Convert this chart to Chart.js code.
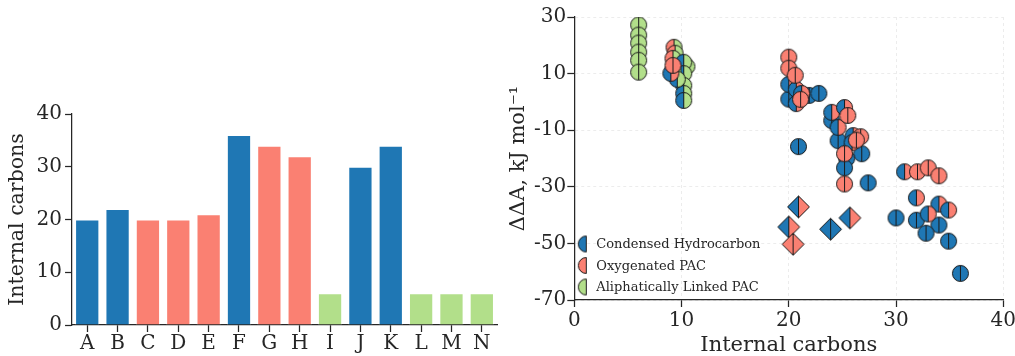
<!DOCTYPE html>
<html>
<head>
<meta charset="utf-8">
<script src="https://cdn.jsdelivr.net/npm/chart.js@4"></script>
<style>
    html, body { margin: 0; padding: 0; background: #fff; overflow: hidden; }
    #wrap { position: relative; width: 1015px; height: 356px; overflow: hidden; }
    .box { position: absolute; top: 0; height: 356px; }
    #left-box { left: 0; width: 505px; }
    #right-box { left: 505px; width: 515px; }
</style>
</head>
<body>
<div id="wrap">
    <div class="box" id="left-box"><canvas id="bar-chart"></canvas></div>
    <div class="box" id="right-box"><canvas id="scatter-chart"></canvas></div>
</div>
<script>
'use strict';

// ---- data ----

const barLabels = ['A', 'B', 'C', 'D', 'E', 'F', 'G', 'H', 'I', 'J', 'K', 'L', 'M', 'N']
const barValues = [20, 22, 20, 20, 21, 36, 34, 32, 6, 30, 34, 6, 6, 6]
const barFamilies = ['cond', 'cond', 'oxy', 'oxy', 'oxy', 'cond', 'oxy', 'oxy', 'ali', 'cond', 'cond', 'ali', 'ali', 'ali']

const legendNames = ['Condensed Hydrocarbon', 'Oxygenated PAC', 'Aliphatically Linked PAC']
const legendFamilies = ['cond', 'oxy', 'ali']

// circles, left half / right half family
const condOxyX = [9.0, 20.0, 20.7, 20.7, 24.0, 25.2, 24.6, 26.0, 25.9, 30.8, 31.9, 34.0, 34.9, 33.0, 21.2]
const condOxyY = [10.1, 6.2, 4.4, -0.6, -3.7, -2.0, -9.0, -11.9, -14.4, -24.7, -33.9, -36.1, -38.2, -39.6, 3.0]

const condX = [21.9, 22.8, 20.0, 20.9, 24.0, 24.6, 26.8, 25.4, 25.2, 27.4, 30.0, 31.9, 34.0, 32.8, 34.9, 36.0]
const condY = [2.3, 3.0, 1.0, -15.8, -6.6, -13.7, -18.3, -20.0, -23.3, -28.6, -41.0, -41.8, -43.5, -46.4, -49.2, -60.6]

const oxyX = [20.0, 20.0, 20.6, 21.1, 25.5, 26.7, 25.2, 25.2, 32.0, 33.0, 34.0, 9.2, 26.3]
const oxyY = [15.8, 11.9, 9.4, 0.9, -4.8, -12.3, -18.3, -29.0, -24.7, -23.3, -26.1, 12.9, -13.5]

const oxyAliX = [9.3, 9.4, 9.2]
const oxyAliY = [19.3, 17.2, 15.4]

const condAliX = [10.2, 10.2, 10.2, 10.2, 10.2, 9.2, 9.6]
const condAliY = [14.0, 10.0, 5.8, 3.0, 0.5, 11.0, 8.0]

const aliX = [6, 6, 6, 6, 6, 6, 10.5]
const aliY = [27.2, 23.6, 20.8, 17.6, 14.7, 10.5, 12.5]

// diamonds
const dCondOxyX = [20.9, 20.0, 25.7]
const dCondOxyY = [-37.1, -44.2, -41.0]
const dCondX = [23.9]
const dCondY = [-45.0]
const dOxyX = [20.4]
const dOxyY = [-50.3]

// ---- styles ----

const familyColors = { cond: '#1f77b4', oxy: '#fa8072', ali: '#b2df8a' }
const ink = '#262626'
const serif = "'DejaVu Serif', serif"

Chart.defaults.font.family = serif
Chart.defaults.color = ink

// build a half / half marker image for pointStyle

function makeMarker(shape, leftFam, rightFam, halfOnly) {
    const size = shape === 'diamond' ? 25 : 19
    const r = shape === 'diamond' ? 11 : 8
    const c = document.createElement('canvas')
    c.width = size
    c.height = size
    const ctx = c.getContext('2d')
    const m = size / 2

    const outline = () => {
        ctx.beginPath()
        if (shape === 'diamond') {
            ctx.moveTo(m, m - r)
            ctx.lineTo(m + r, m)
            ctx.lineTo(m, m + r)
            ctx.lineTo(m - r, m)
            ctx.closePath()
        } else {
            ctx.arc(m, m, r, 0, Math.PI * 2)
        }
    }

    const fillHalf = (x0, color) => {
        ctx.save()
        ctx.beginPath()
        ctx.rect(x0, 0, m, size)
        ctx.clip()
        outline()
        ctx.fillStyle = color
        ctx.fill()
        ctx.lineWidth = 1
        ctx.strokeStyle = '#1a1a1a'
        ctx.stroke()
        ctx.restore()
    }

    fillHalf(0, familyColors[leftFam])
    if (!halfOnly) fillHalf(m, familyColors[rightFam])

    ctx.beginPath()
    ctx.moveTo(m, m - r)
    ctx.lineTo(m, m + r)
    ctx.lineWidth = 1
    ctx.strokeStyle = '#1a1a1a'
    ctx.stroke()

    return c
}

const toPoints = (xs, ys) => xs.map((x, i) => ({ x: x, y: ys[i] }))

const scatterGroups = [
    { xs: dOxyX, ys: dOxyY, shape: 'diamond', l: 'oxy', r: 'oxy' },
    { xs: dCondX, ys: dCondY, shape: 'diamond', l: 'cond', r: 'cond' },
    { xs: dCondOxyX, ys: dCondOxyY, shape: 'diamond', l: 'cond', r: 'oxy' },
    { xs: oxyX, ys: oxyY, shape: 'circle', l: 'oxy', r: 'oxy' },
    { xs: condOxyX, ys: condOxyY, shape: 'circle', l: 'cond', r: 'oxy' },
    { xs: condX, ys: condY, shape: 'circle', l: 'cond', r: 'cond' },
    { xs: condAliX, ys: condAliY, shape: 'circle', l: 'cond', r: 'ali' },
    { xs: oxyAliX, ys: oxyAliY, shape: 'circle', l: 'oxy', r: 'ali' },
    { xs: aliX, ys: aliY, shape: 'circle', l: 'ali', r: 'ali' }
]

// legend drawn inside the plot area, bottom left

const halfLegend = {
    id: 'halfLegend',
    afterDraw(chart) {
        const { ctx, chartArea } = chart
        ctx.save()
        ctx.font = `13px ${serif}`
        ctx.fillStyle = ink
        ctx.textBaseline = 'middle'
        legendNames.forEach((name, i) => {
            const y = chartArea.bottom - 56 + i * 21.5
            const img = makeMarker('circle', legendFamilies[i], legendFamilies[i], true)
            ctx.drawImage(img, chartArea.left + 12 - img.width / 2, y - img.height / 2)
            ctx.fillText(name, chartArea.left + 22, y + 1)
        })
        ctx.restore()
    }
}

// ---- bar chart ----

new Chart(document.getElementById('bar-chart'), {
    type: 'bar',
    data: {
        labels: barLabels,
        datasets: [{
            data: barValues,
            backgroundColor: barFamilies.map(f => familyColors[f]),
            borderColor: 'rgba(255,255,255,0.7)',
            borderWidth: 1,
            barPercentage: 0.8,
            categoryPercentage: 1
        }]
    },
    options: {
        animation: false,
        responsive: true,
        maintainAspectRatio: false,
        events: [],
        layout: { padding: { top: 114, left: 5, right: 8, bottom: 0 } },
        plugins: { legend: { display: false }, tooltip: { enabled: false } },
        scales: {
            x: {
                grid: { offset: false, drawOnChartArea: false, tickLength: 7, tickColor: ink, tickWidth: 1.25 },
                border: { color: ink, width: 1.25 },
                ticks: { font: { size: 20, lineHeight: 1.0 }, color: ink, padding: 2 }
            },
            y: {
                min: 0,
                max: 40,
                ticks: { stepSize: 10, font: { size: 20 }, color: ink, padding: 3 },
                grid: { drawOnChartArea: false, tickLength: 7, tickColor: ink, tickWidth: 1.25 },
                border: { color: ink, width: 1.25 },
                title: { display: true, text: 'Internal carbons', font: { size: 20.5 }, color: ink, padding: { top: 0, bottom: 4 } }
            }
        }
    }
})

// ---- scatter chart ----

new Chart(document.getElementById('scatter-chart'), {
    type: 'scatter',
    data: {
        datasets: scatterGroups.map(g => ({
            data: toPoints(g.xs, g.ys),
            pointStyle: makeMarker(g.shape, g.l, g.r, false),
            pointRadius: 8
        }))
    },
    options: {
        animation: false,
        responsive: true,
        maintainAspectRatio: false,
        events: [],
        layout: { padding: { top: 17, left: 2, right: 0, bottom: 0 } },
        plugins: { legend: { display: false }, tooltip: { enabled: false } },
        scales: {
            x: {
                type: 'linear',
                min: 0,
                max: 40,
                ticks: { stepSize: 10, font: { size: 20, lineHeight: 1.0 }, color: ink, padding: 4 },
                grid: { color: '#ececec', tickLength: 7, tickColor: ink, tickWidth: 1.25 },
                border: { color: ink, width: 1.25, dash: [3, 3] },
                title: { display: true, text: 'Internal carbons', font: { size: 21, lineHeight: 1.0 }, color: ink, padding: { top: 0, bottom: 0 } }
            },
            y: {
                min: -70,
                max: 30,
                ticks: { stepSize: 20, font: { size: 20 }, color: ink, padding: 1 },
                grid: { color: '#ececec', tickLength: 7, tickColor: ink, tickWidth: 1.25 },
                border: { color: ink, width: 1.25, dash: [3, 3] },
                title: { display: true, text: 'ΔΔA, kJ mol⁻¹', font: { size: 21, lineHeight: 1.1 }, color: ink, padding: { top: 0, bottom: 3 } }
            }
        }
    },
    plugins: [halfLegend]
})
</script>
</body>
</html>
